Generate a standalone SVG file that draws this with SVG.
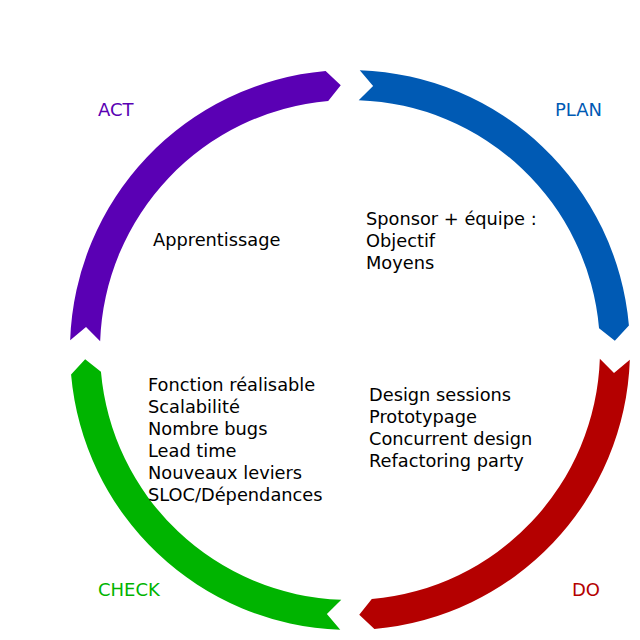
<svg xmlns="http://www.w3.org/2000/svg" width="640" height="640" viewBox="0 0 640 640">
  <style>
    text { font-family: "DejaVu Sans", "Liberation Sans", sans-serif; }
    .label { font-size: 18px; }
    .body { font-size: 17.8px; fill: #000000; }
  </style>
  <defs>
    <path id="arc" d="M359.77,70.17 A280,280 0 0 1 628.93,325.60 L614.84,340.75 L599.05,328.21 A250,250 0 0 0 358.72,100.15 L373.10,86.01 Z"/>
  </defs>
  <rect x="0" y="0" width="640" height="640" fill="#ffffff"/>
  <g id="connectors">
    <use href="#arc" fill="#005ab4"/>
    <use href="#arc" fill="#b40000" transform="rotate(90 350 350)"/>
    <use href="#arc" fill="#00b400" transform="rotate(180 350 350)"/>
    <use href="#arc" fill="#5a00b4" transform="rotate(270 350 350)"/>
  </g>
  <g id="plan">
    <text class="label" x="555" y="116" fill="#005ab4">PLAN</text>
    <text class="body" x="366" y="225">Sponsor + équipe :</text>
    <text class="body" x="366" y="247">Objectif</text>
    <text class="body" x="366" y="269">Moyens</text>
  </g>
  <g id="do">
    <text class="label" x="572" y="596" fill="#b40000">DO</text>
    <text class="body" x="369" y="401">Design sessions</text>
    <text class="body" x="369" y="423">Prototypage</text>
    <text class="body" x="369" y="445">Concurrent design</text>
    <text class="body" x="369" y="467">Refactoring party</text>
  </g>
  <g id="check">
    <text class="label" x="98" y="596" fill="#00b400">CHECK</text>
    <text class="body" x="148" y="391">Fonction réalisable</text>
    <text class="body" x="148" y="413">Scalabilité</text>
    <text class="body" x="148" y="435">Nombre bugs</text>
    <text class="body" x="148" y="457">Lead time</text>
    <text class="body" x="148" y="479">Nouveaux leviers</text>
    <text class="body" x="148" y="501">SLOC/Dépendances</text>
  </g>
  <g id="act">
    <text class="label" x="98" y="116" fill="#5a00b4">ACT</text>
    <text class="body" x="153" y="246">Apprentissage</text>
  </g>
</svg>
